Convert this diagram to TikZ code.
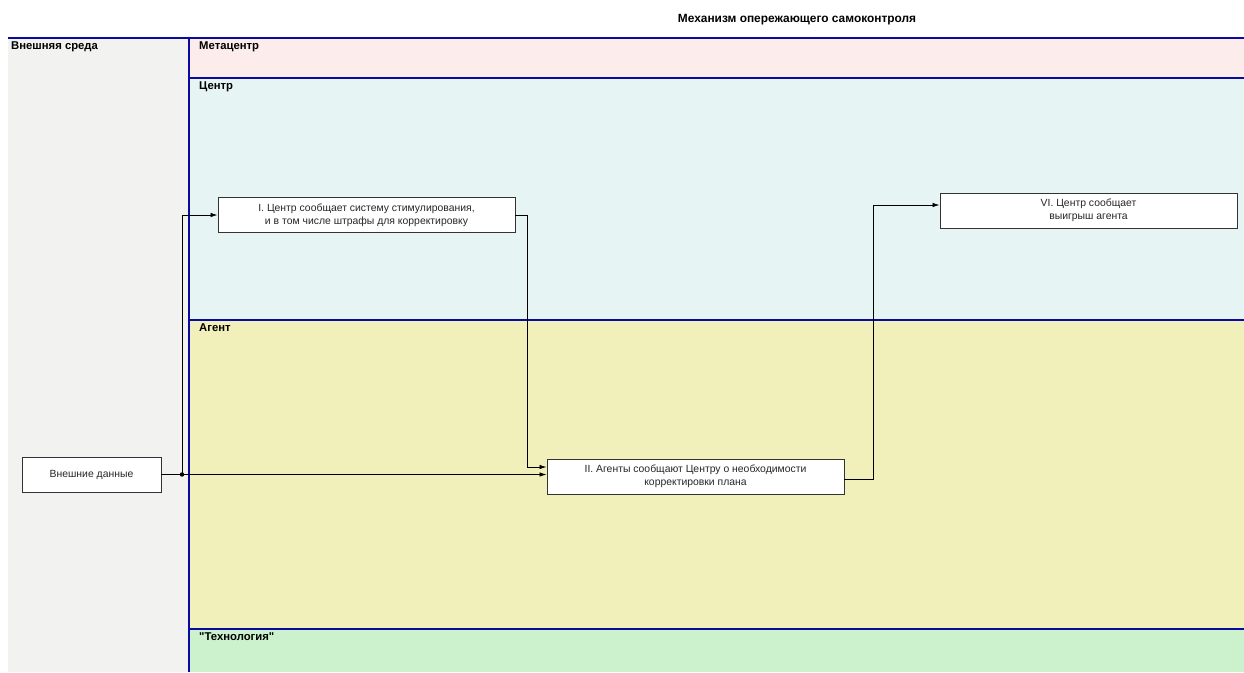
\documentclass[tikz,border=0pt]{standalone}
\usepackage{fontspec}
\setmainfont{Liberation Sans}
\newfontfamily\plainquote{Liberation Sans}[Ligatures=TeXOff]
\usetikzlibrary{arrows.meta,calc}
\definecolor{extgray}{HTML}{F2F2F0}
\definecolor{metapink}{HTML}{FCEDEC}
\definecolor{centcyan}{HTML}{E6F4F4}
\definecolor{agyellow}{HTML}{F1F0BA}
\definecolor{techgreen}{HTML}{CBF2CD}
\definecolor{laneblue}{HTML}{0A0AA0}
\definecolor{boxline}{HTML}{333333}
\tikzset{
  laneline/.style={draw=laneblue,line width=1.4pt},
  lanelabel/.style={anchor=north west,inner sep=0pt,font=\fontsize{11.3}{12}\selectfont\bfseries},
  procbox/.style={draw=boxline,fill=white,line width=0.9pt,minimum height=35pt,align=center,inner sep=1pt,text=black!85,font=\fontsize{10.4}{13}\selectfont},
  conn/.style={draw=black,line width=0.8pt},
  arr/.style={conn,-{Latex[length=7pt,width=4.5pt]}}
}
\begin{document}
\begin{tikzpicture}[x=1pt,y=-1pt]
\useasboundingbox (0,0) rectangle (1244,672);
\fill[white] (0,0) rectangle (1244,672);
% lanes
\fill[extgray] (8,38) rectangle (189,672);
\fill[metapink] (189,38) rectangle (1244,78);
\fill[centcyan] (189,78) rectangle (1244,320);
\fill[agyellow] (189,320) rectangle (1244,629);
\fill[techgreen] (189,629) rectangle (1244,672);
\draw[laneline] (8,38) -- (1244,38);
\draw[laneline] (189,78) -- (1244,78);
\draw[laneline] (189,320) -- (1244,320);
\draw[laneline] (189,629) -- (1244,629);
\draw[laneline] (189,38) -- (189,672);
% title and lane labels
\node[font=\fontsize{11.9}{13}\selectfont\bfseries] (title) at (797,20) {Механизм опережающего самоконтроля};
\node[lanelabel] (lext) at (11,41.5) {Внешняя среда};
\node[lanelabel] (lmeta) at (199,41.5) {Метацентр};
\node[lanelabel] (lcent) at (199,81.5) {Центр};
\node[lanelabel] (lag) at (199,323.5) {Агент};
\node[lanelabel] (ltech) at (199,632.5) {\plainquote\bfseries "Технология"};
% boxes
\node[procbox,minimum width=139pt] (ext) at (91.5,474.5) {Внешние данные};
\node[procbox,minimum width=297pt] (b1) at (366.5,215) {I. Центр сообщает систему стимулирования,\\и в том числе штрафы для корректировку};
\node[procbox,minimum width=297pt] (b2) at (695.5,476.5) {II. Агенты сообщают Центру о необходимости\\корректировки плана};
\node[procbox,minimum width=297pt] (b6) at (1088.5,210.5) {VI. Центр сообщает\\выигрыш агента};
% connectors
\coordinate (j) at (182,474.5);
\draw[conn] (ext.east) -- (j);
\draw[arr] (j) |- (b1.west);
\draw[arr] (j) -- (j -| b2.west);
\draw[arr] (b1.east) -- ++(12,0) |- ([yshift=9.5pt]b2.west);
\draw[arr] ([yshift=-2.5pt]b2.east) -- ++(29,0) |- ([yshift=5.5pt]b6.west);
\fill (j) circle (2.2pt);
\end{tikzpicture}
\end{document}
